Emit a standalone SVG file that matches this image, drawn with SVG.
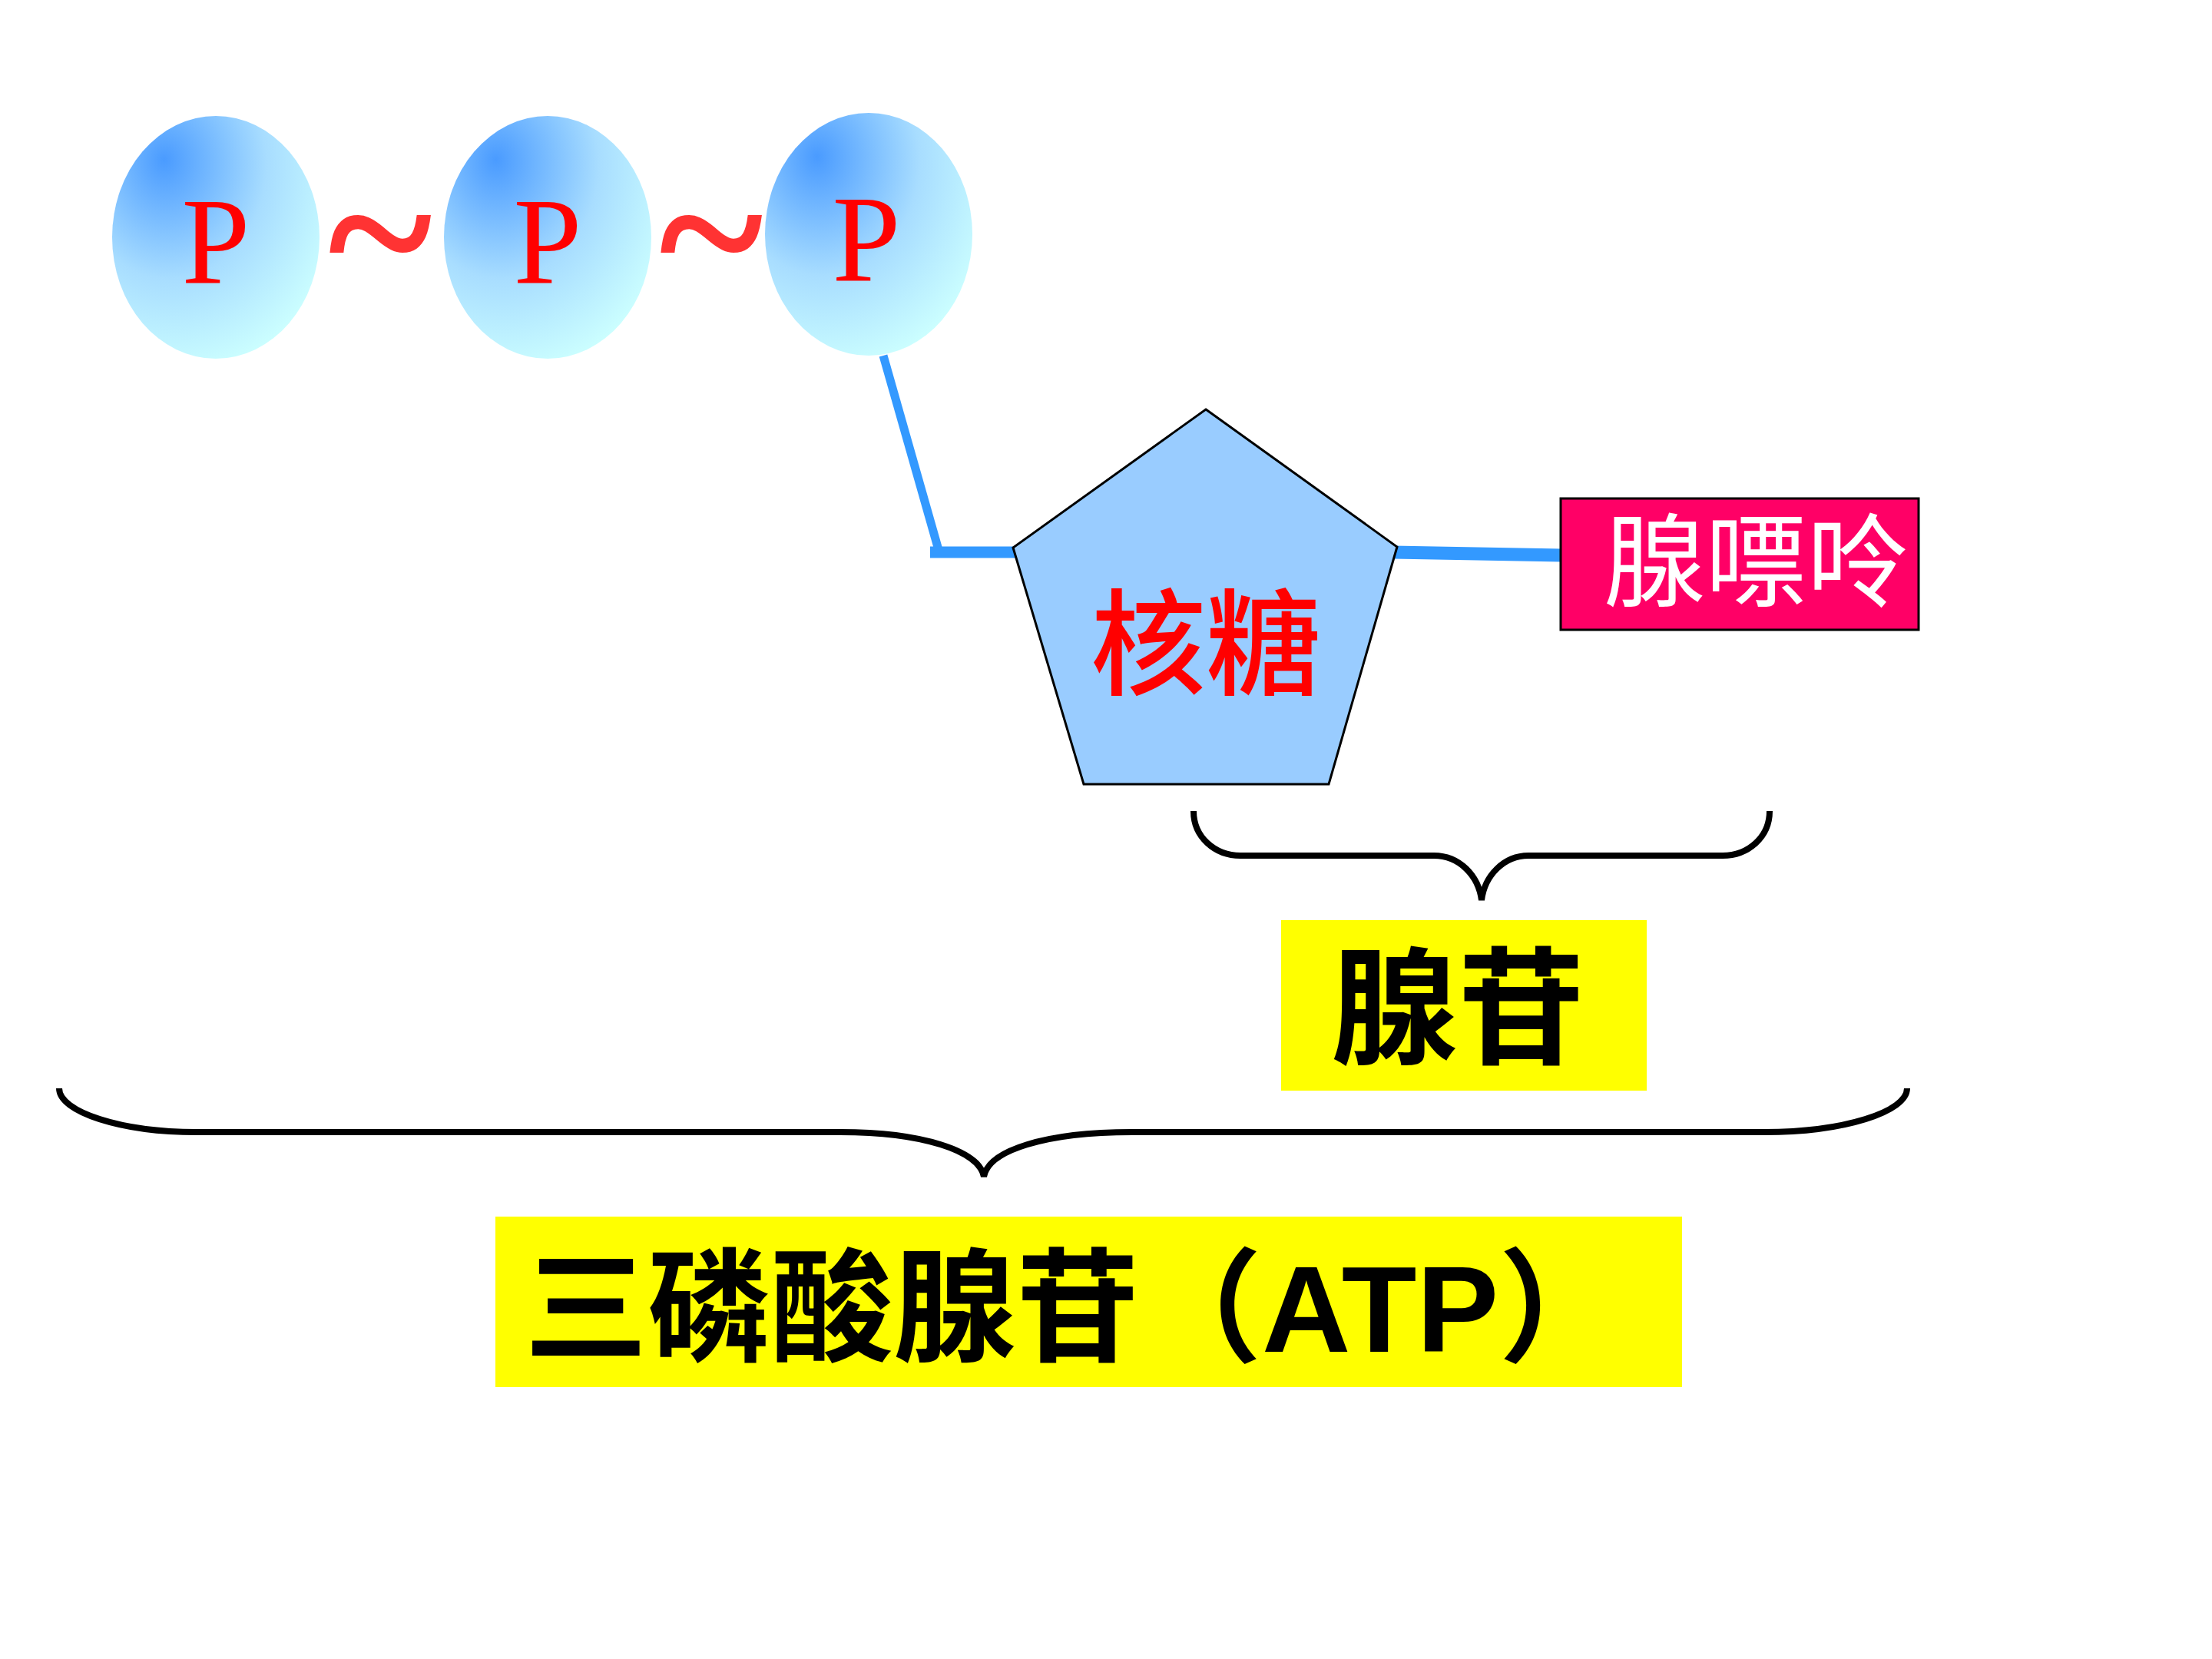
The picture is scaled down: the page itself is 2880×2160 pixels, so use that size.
<svg xmlns="http://www.w3.org/2000/svg" width="2880" height="2160" viewBox="0 0 2880 2160">
<defs>
<radialGradient id="ballGrad" cx="0.3" cy="0.22" r="0.85" fx="0.25" fy="0.18">
<stop offset="0" stop-color="#4A9BFF"/>
<stop offset="0.55" stop-color="#A8DDFF"/>
<stop offset="1" stop-color="#CCFFFF"/>
</radialGradient>
<style>
.ball{fill:url(#ballGrad);stroke:none}
.ptxt{font-family:"Liberation Serif","Noto Sans CJK SC",serif;font-size:160px;fill:#FF0000;text-anchor:middle}
.tilde{font-family:"Liberation Serif",serif;font-size:260px;font-weight:bold;fill:#FF3333;text-anchor:middle}
.conn{stroke:#3399FF;fill:none;stroke-linecap:butt}
.brace{stroke:#000;fill:none;stroke-width:8;stroke-linecap:butt}
.cjk{font-family:"Noto Sans CJK SC",sans-serif;text-anchor:middle}
</style>
</defs>
<rect width="2880" height="2160" fill="#FFFFFF"/>
<g id="connectors">
<line class="conn" x1="1150" y1="463" x2="1222" y2="716" stroke-width="11"/>
<line class="conn" x1="1211" y1="719" x2="1322" y2="719" stroke-width="15"/>
<line class="conn" x1="1814" y1="719" x2="2033" y2="723" stroke-width="17"/>
</g>
<g id="p1">
<ellipse class="ball" cx="281" cy="309" rx="135" ry="158"/>
<text class="ptxt" x="281" y="368">P</text>
</g>
<g id="tilde1"><text class="tilde" x="495" y="390">~</text></g>
<g id="p2">
<ellipse class="ball" cx="713" cy="309" rx="135" ry="158"/>
<text class="ptxt" x="713" y="368">P</text>
</g>
<g id="tilde2"><text class="tilde" x="926" y="390">~</text></g>
<g id="p3">
<ellipse class="ball" cx="1131" cy="305" rx="135" ry="158"/>
<text class="ptxt" x="1128" y="365">P</text>
</g>
<g id="ribose">
<polygon points="1570,533 1819,712 1730,1021 1411,1021 1319,713" fill="#99CCFF" stroke="#000" stroke-width="3"/>
<text class="cjk" x="1570" y="893" font-size="150" font-weight="500" fill="#FF0000">核糖</text>
</g>
<g id="adenine">
<rect x="2032" y="649" width="466" height="171" fill="#FF0066" stroke="#000" stroke-width="3"/>
<text class="cjk" x="2286" y="779" font-size="132" fill="#FFFFFF">腺嘌呤</text>
</g>
<g id="braces">
<path class="brace" d="M1554,1056 C1554,1090 1582,1114 1615,1114 L1867,1114 C1900,1114 1925,1140 1929,1172 C1933,1140 1958,1114 1990,1114 L2243,1114 C2276,1114 2304,1090 2304,1056"/>
<path class="brace" d="M77,1417 C77,1448 158,1474 256,1474 L1094,1474 C1200,1474 1275,1498 1281,1532 C1287,1498 1360,1474 1474,1474 L2297,1474 C2400,1474 2483,1448 2483,1417"/>
</g>
<g id="adenosine">
<rect x="1668" y="1198" width="476" height="222" fill="#FFFF00"/>
<text class="cjk" x="1898" y="1372" font-size="165" font-weight="bold" fill="#000">腺苷</text>
</g>
<g id="atp">
<rect x="645" y="1584" width="1545" height="222" fill="#FFFF00"/>
<text x="683" y="1760" font-family="Liberation Sans,'Noto Sans CJK SC',sans-serif" font-size="160" font-weight="bold" fill="#000">三磷酸腺苷（<tspan font-size="160">ATP</tspan>）</text>
</g>
</svg>
